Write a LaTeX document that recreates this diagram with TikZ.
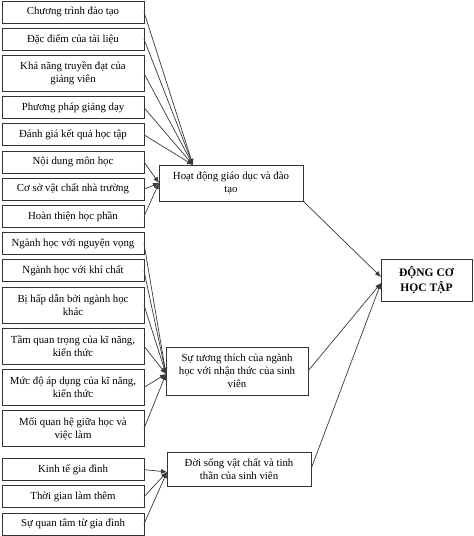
\documentclass[tikz,border=0pt]{standalone}
\usepackage{fontspec}
\setmainfont{Liberation Serif}
\usepackage{tikz}
\usetikzlibrary{arrows.meta,positioning}
\definecolor{boxline}{HTML}{333333}
\definecolor{linkline}{HTML}{3A3A3A}
\tikzset{
  leftbox/.style={
    draw=boxline,
    line width=0.9pt,
    outer sep=0pt,
    minimum width=142pt,
    minimum height=22pt,
    inner sep=2pt,
    align=center,
    font=\fontsize{10.8}{13}\selectfont
  },
  tallbox/.style={
    leftbox,
    minimum height=36pt
  },
  midbox/.style={
    leftbox,
    minimum width=144pt
  },
  mainbox/.style={
    leftbox,
    minimum width=91pt,
    minimum height=42pt,
    font=\fontsize{11.5}{15}\selectfont\bfseries
  },
  arrow/.style={
    -{Latex[length=6pt,width=5pt]},
    line width=0.7pt,
    draw=linkline
  }
}

\begin{document}
\begin{tikzpicture}[x=1pt,y=1pt,node distance=5.2pt]
\useasboundingbox (0,0) rectangle (474,-536);
% left column
\node[leftbox, anchor=north west] (ctdt) at (2,-1) {Chương trình đào tạo};
\node[leftbox, below=of ctdt] (ddtl) {Đặc điểm của tài liệu};
\node[tallbox, below=of ddtl] (kntd) {Khả năng truyền đạt của\\giảng viên};
\node[leftbox, below=of kntd] (ppgd) {Phương pháp giảng dạy};
\node[leftbox, below=of ppgd] (dgkq) {Đánh giá kết quả học tập};
\node[leftbox, below=of dgkq] (ndmh) {Nội dung môn học};
\node[leftbox, below=of ndmh] (csvc) {Cơ sở vật chất nhà trường};
\node[leftbox, below=of csvc] (htphan) {Hoàn thiện học phần};
\node[leftbox, below=of htphan] (nhnv) {Ngành học với nguyện vọng};
\node[leftbox, below=of nhnv] (nhkc) {Ngành học với khí chất};
\node[tallbox, below=of nhkc] (bhd) {Bị hấp dẫn bởi ngành học\\khác};
\node[tallbox, below=of bhd] (tqt) {Tầm quan trọng của kĩ năng,\\kiến thức};
\node[tallbox, below=of tqt] (mdad) {Mức độ áp dụng của kĩ năng,\\kiến thức};
\node[tallbox, below=of mdad] (mqh) {Mối quan hệ giữa học và\\việc làm};
\node[leftbox, below=12pt of mqh] (ktgd) {Kinh tế gia đình};
\node[leftbox, below=of ktgd] (tglt) {Thời gian làm thêm};
\node[leftbox, below=of tglt] (sqt) {Sự quan tâm từ gia đình};

% middle column
\node[midbox, minimum height=36pt] (hdgd) at (231,-183) {Hoạt động giáo dục và đào\\tạo};
\node[midbox, minimum width=142pt, minimum height=48pt] (stt) at (237,-371) {Sự tương thích của ngành\\học với nhận thức của sinh\\viên};
\node[midbox, minimum height=34pt] (dsvc) at (239,-469) {Đời sống vật chất và tinh\\thần của sinh viên};

% right
\node[mainbox] (dcht) at (426.5,-280) {ĐỘNG CƠ\\HỌC TẬP};

\coordinate (hdtop) at ([xshift=34pt]hdgd.north west);
\foreach \a in {ctdt,ddtl,kntd,ppgd,dgkq} {
  \draw[arrow] (\a.east) -- (hdtop);
}
\foreach \a in {ndmh,csvc,htphan} {
  \draw[arrow] (\a.east) -- (hdgd.west);
}
\foreach \a in {nhnv,nhkc,bhd,tqt,mdad,mqh} {
  \draw[arrow] (\a.east) -- ([yshift=-3pt]stt.west);
}
\foreach \a in {ktgd,tglt,sqt} {
  \draw[arrow] (\a.east) -- ([yshift=-3pt]dsvc.west);
}
\draw[arrow] (hdgd.south east) -- ([yshift=3pt]dcht.west);
\draw[arrow] (stt.east) -- ([yshift=-3pt]dcht.west);
\draw[arrow] (dsvc.east) -- ([yshift=-3pt]dcht.west);
\end{tikzpicture}
\end{document}
